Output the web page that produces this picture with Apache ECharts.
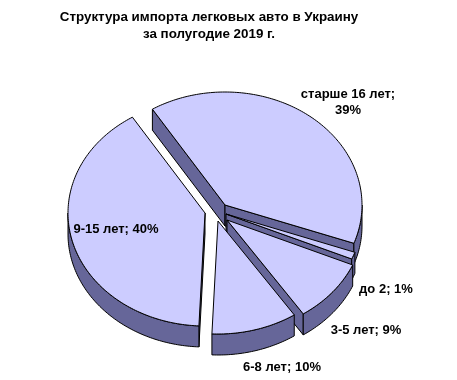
<!DOCTYPE html>
<html>
<head>
<meta charset="utf-8">
<script src="https://cdn.jsdelivr.net/npm/echarts@6/dist/echarts.min.js"></script>
<style>
  html, body { margin: 0; padding: 0; background: #fff; }
  #chart { width: 457px; height: 380px; }
</style>
</head>
<body>
<div id="chart"></div>
<script>
// ---- data ----
const titleLines = ['Структура импорта легковых авто в Украину', 'за полугодие 2019 г.'];
const categories = ['старше 16 лет', 'до 2', '3-5 лет', '6-8 лет', '9-15 лет'];
const shares = [39, 1, 9, 10, 40];

// ---- layout / style (not data) ----
const layout = {
  cx: 220, cy: 214, rx: 137, ry: 113, depth: 21, startDeg: -32,
  offsets: [[5, -9], [6, 0], [7, 6], [-2, 7], [-15, -1]],
  labelPos: [[348, 102], [386, 289], [366, 330], [282, 367], [116, 229]],
  labelBreak: [true, false, false, false, false],
  rank: [0, 2, 3, 4, 1]
};
const TOP = '#CCCCFF', SIDE = '#666699', EDGE = '#000000';
const FONT = "'Liberation Sans', Arial, sans-serif";

const total = shares.reduce((a, b) => a + b, 0);
const rad = d => d * Math.PI / 180;

function renderItem(params, api) {
  const i = params.dataIndex;
  const v = api.value(1);
  let cum = 0;
  for (let k = 0; k < i; k++) cum += shares[k];
  const t0 = layout.startDeg + 360 * cum / total;
  const t1 = t0 + 360 * v / total;
  const cx = layout.cx + layout.offsets[i][0];
  const cy = layout.cy + layout.offsets[i][1];
  const rx = layout.rx, ry = layout.ry, d = layout.depth;
  const P = (t, dy) => [cx + rx * Math.sin(rad(t)), cy - ry * Math.cos(rad(t)) + (dy || 0)];
  const arc = (a, b, dy) => {
    const pts = [];
    const n = Math.max(2, Math.ceil(Math.abs(b - a)));
    for (let s = 0; s <= n; s++) pts.push(P(a + (b - a) * s / n, dy));
    return pts;
  };
  const base = layout.rank[i] * 10;
  const children = [];
  const poly = (pts, fill, z) => children.push({
    type: 'polygon', z2: base + z,
    shape: { points: pts },
    style: { fill: fill, stroke: EDGE, lineWidth: 1 }
  });
  // radial side faces
  if (Math.sin(rad(t0)) < 0) {
    const p = P(t0);
    poly([[cx, cy], p, [p[0], p[1] + d], [cx, cy + d]], SIDE, 0);
  }
  if (Math.sin(rad(t1)) > 0) {
    const p = P(t1);
    poly([[cx, cy], p, [p[0], p[1] + d], [cx, cy + d]], SIDE, 0);
  }
  // outer front side
  const a = Math.max(t0, 90), b = Math.min(t1, 270);
  if (b > a) {
    const topArc = arc(a, b, 0);
    const botArc = arc(b, a, d);
    poly(topArc.concat(botArc), SIDE, 1);
  }
  // top face
  poly([[cx, cy]].concat(arc(t0, t1, 0)), TOP, 2);
  // label
  const lbl = categories[i] + ';' + (layout.labelBreak[i] ? '\n' : ' ') + v + '%';
  children.push({
    type: 'text', z2: 200,
    style: {
      text: lbl, x: layout.labelPos[i][0], y: layout.labelPos[i][1],
      align: 'center', verticalAlign: 'middle',
      fill: '#000', font: 'bold 13px ' + FONT, lineHeight: 16
    }
  });
  return { type: 'group', children: children };
}

const chart = echarts.init(document.getElementById('chart'), null, { renderer: 'canvas' });
chart.setOption({
  animation: false,
  backgroundColor: '#ffffff',
  title: {
    text: titleLines.join('\n'),
    left: 204, top: 4, textAlign: 'center',
    textStyle: { fontFamily: FONT, fontSize: 13.4, fontWeight: 'bold', color: '#000', lineHeight: 17 }
  },
  series: [{
    type: 'custom',
    coordinateSystem: 'none',
    renderItem: renderItem,
    data: shares.map((v, i) => ({ name: categories[i], value: [i, v] }))
  }]
});
</script>
</body>
</html>
